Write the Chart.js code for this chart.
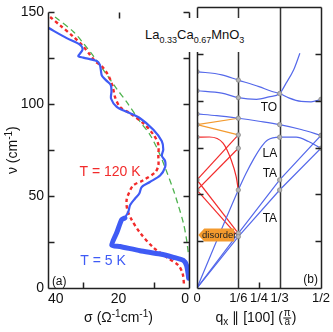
<!DOCTYPE html>
<html>
<head>
<meta charset="utf-8">
<script src="https://cdn.jsdelivr.net/npm/chart.js@4.4.0/dist/chart.umd.min.js"></script>
<style>
  html, body { margin: 0; padding: 0; background: #fff; overflow: hidden; }
  #wrap { position: relative; width: 333px; height: 332px; }
  canvas { position: absolute; top: 0; }
  #sigmaChart { left: 0; }
  #qChart { left: 190px; }
  #formula {
    position: absolute; left: 140px; top: 18px; width: 108px; height: 34px;
    background: #fff; padding-left: 5px; box-sizing: border-box;
    font: 13px 'Liberation Sans', Arial, sans-serif; line-height: 34px; color: #111;
    white-space: nowrap;
  }
  #formula span { font-size: 9px; line-height: 1; position: relative; top: 4px; }
</style>
</head>
<body>
<div id="wrap">
  <canvas id="sigmaChart" width="195" height="332"></canvas>
  <canvas id="qChart" width="143" height="332"></canvas>
  <div id="formula">La<span>0.33</span>Ca<span>0.67</span>MnO<span>3</span></div>
</div>
<script>
// (a) optical conductivity: sigma (1/Ohm cm) against nu (1/cm)
const nu5K = [141.6, 136, 132.4, 129.7, 126.2, 125.4, 123.5, 121.5, 118.5, 115.5, 113, 110.5, 107, 103, 98.6, 95.9, 92.4, 86.1, 79.9, 75.4, 71.9, 69.2, 65.7, 61.2, 57.7, 55, 51.4, 48.7, 45.2, 41.6, 38.1];
const sigma5K = [39.9, 34.7, 30.9, 30.2, 31.4, 30.0, 26.2, 25.3, 25.0, 24.7, 23.5, 22.2, 22.0, 22.1, 20.5, 17.7, 13.9, 10.1, 7.7, 7.3, 7.7, 6.8, 6.8, 8.2, 11.1, 13.4, 14.1, 15.3, 16.7, 17.2, 18.2];
const nu5KLow = [38.1, 37.2, 30.1, 23.3, 22.6, 20.3, 18.5, 16.7, 15.0, 12.3, 7.8, 5.3];
const sigma5KLow = [18.2, 19.1, 20.5, 21.9, 19.6, 13.9, 8.2, 4.4, 1.6, 0.7, 0.25, 0.1];
const nu120K = [147.5, 143, 136.8, 131.5, 127, 123.5, 120.8, 117.3, 113.7, 109.3, 104, 98.6, 95, 89.7, 83.5, 78.1, 71.9, 66.6, 63, 58.6, 55.9, 52.3, 47.9, 42.6, 37.2, 30.1, 22, 16.7, 12.3, 7.8, 1.6];
const sigma120K = [39.4, 36.6, 32.8, 30, 28.1, 26.7, 24.8, 23.4, 22.4, 21.6, 21, 19.6, 16.7, 13, 10.1, 8.7, 8.7, 8.7, 9.6, 13, 15.8, 16.9, 17.7, 17.5, 16.3, 13.9, 10.1, 6.3, 3, 1.8, 1.4];
const nuFit = [147.5, 139.5, 133.3, 126.2, 117.3, 108.4, 101.3, 90.6, 83.5, 74.6, 65.7, 53.2, 46, 35.4, 26.5, 17.5];
const sigmaFit = [38.0, 32.8, 30.0, 27.1, 23.8, 20.5, 17.7, 13.9, 11.1, 8.7, 6.8, 4.4, 3.2, 1.6, 0.7, 0.1];
const sigmaTicks = [0, 20, 40];
const nuTicks = [0, 50, 100, 150];
const nuTickMarks = [0, 25, 50, 75, 100, 125, 150];

// (b) phonon dispersion along [100], q in units of pi/a
const qTicks = [0, 1/6, 1/4, 1/3, 1/2];
const qTickLabels = ['0', '1/6', '1/4', '1/3', '1/2'];
const qO1 = [0, 0.1, 1/6, 0.25, 0.3, 1/3, 0.37, 0.42, 0.46, 0.5];
const nuO1 = [115.5, 113.8, 111, 107.5, 105, 103.8, 101.5, 99.6, 99.4, 100.7];
const qO2 = [0, 0.1, 1/6, 0.24, 0.29, 1/3, 0.36, 0.39, 0.415];
const nuO2 = [105.3, 104, 101.6, 100.7, 102, 103.8, 109.5, 116.5, 125.3];
const qO3 = [0, 0.08, 1/6, 0.25, 1/3, 0.42, 0.5];
const nuO3 = [92.9, 92, 90.6, 89, 87.2, 84.6, 81.5];
const qLA = [0, 1/6, 0.197, 0.23, 0.26, 0.285, 1/3, 0.4, 0.45, 0.5];
const nuLA = [0, 52.3, 61, 69.2, 75.5, 79, 80.5, 80.5, 78.2, 74.6];
const qTA = [0, 1/6, 1/3, 0.5];
const nuTA1 = [0, 29.2, 57.7, 81.5];
const nuTA2 = [0, 27.4, 52.3, 74.6];
const qLAFold = [0, 0.05, 0.105, 0.138, 0.158, 1/6];
const nuLAFold = [80.5, 80.6, 77.3, 68.3, 59.4, 52.3];
const qFold = [0, 1/6];
const nuTA1Down = [57.7, 29.2];
const nuTA2Down = [52.3, 27.4];
const nuTA1Up = [57.7, 81.7];
const nuTA2Up = [52.3, 74.6];
const nuO3Down = [87.2, 81.7];
const nuO3Up = [87.2, 90.6];
const qDots = [0, 0, 0, 0, 0, 0, 0, 1/6, 1/6, 1/6, 1/6, 1/6, 1/6, 1/6, 1/6, 1/3, 1/3, 1/3, 1/3, 1/3, 0.5, 0.5, 0.5];
const nuDots = [115.5, 105.3, 92.9, 87.2, 80.5, 57.7, 52.3, 111, 101.6, 90.6, 81.7, 74.6, 52.3, 29.2, 27.4, 103.8, 87.2, 80.5, 57.7, 52.3, 100.7, 81.5, 74.6];

const family = "'Liberation Sans', Arial, Helvetica, sans-serif";
Chart.defaults.font.family = family;
Chart.defaults.color = '#111';

const axisColor = '#222';
const blue = '#3f5bf5';
const thinBlue = '#5468ea';
const red = '#f22b2b';
const green = '#4fb34f';
const orange = '#f39a2e';

function toPoints(xs, ys) {
  return xs.map((v, i) => ({x: v, y: ys[i]}));
}

// draws a row of text pieces (superscripts, subscripts, a small fraction)
function richText(ctx, parts, x, y, align) {
  let w = 0;
  const widths = parts.map(p => {
    ctx.font = (p.size || 14) + 'px ' + family;
    const pw = p.frac
      ? Math.max(ctx.measureText(p.frac[0]).width, ctx.measureText(p.frac[1]).width) + 2
      : ctx.measureText(p.t).width;
    w += pw;
    return pw;
  });
  let cx = align === 'center' ? x - w / 2 : x;
  ctx.textBaseline = 'alphabetic';
  parts.forEach((p, i) => {
    ctx.font = (p.size || 14) + 'px ' + family;
    if (p.frac) {
      const mid = cx + widths[i] / 2;
      ctx.textAlign = 'center';
      ctx.fillText(p.frac[0], mid, y - 6);
      ctx.fillText(p.frac[1], mid, y + 3);
      ctx.fillRect(cx + 0.5, y - 4.5, widths[i] - 1, 1);
    } else {
      ctx.textAlign = 'left';
      ctx.fillText(p.t, cx, y + (p.dy || 0));
    }
    cx += widths[i];
  });
}

// axis box, inward tick marks and guide lines
const frame = {
  id: 'frame',
  beforeDatasetsDraw(chart, args, opts) {
    const {ctx, chartArea: a, scales: {x}} = chart;
    ctx.save();
    ctx.strokeStyle = '#333';
    ctx.lineWidth = 1.5;
    (opts.guides || []).forEach(v => {
      const px = Math.round(x.getPixelForValue(v)) + 0.5;
      ctx.beginPath();
      ctx.moveTo(px, a.top);
      ctx.lineTo(px, a.bottom);
      ctx.stroke();
    });
    ctx.restore();
  },
  afterDatasetsDraw(chart, args, opts) {
    const {ctx, chartArea: a, scales: {x, y}} = chart;
    const L = Math.round(a.left) + 0.5, R = Math.round(a.right) + 0.5;
    const T = Math.round(a.top) + 0.5, B = Math.round(a.bottom) + 0.5;
    const len = 6;
    ctx.save();
    ctx.strokeStyle = axisColor;
    ctx.lineWidth = 1.5;
    ctx.beginPath();
    opts.sides.forEach(s => {
      if (s === 'left') { ctx.moveTo(L, T); ctx.lineTo(L, B); }
      if (s === 'right') { ctx.moveTo(R, T); ctx.lineTo(R, B); }
      if (s === 'top') { ctx.moveTo(L, T); ctx.lineTo(R, T); }
      if (s === 'bottom') { ctx.moveTo(L, B); ctx.lineTo(R, B); }
    });
    nuTickMarks.forEach(v => {
      const py = Math.round(y.getPixelForValue(v)) + 0.5;
      ctx.moveTo(L, py); ctx.lineTo(L + len, py);
      ctx.moveTo(R, py); ctx.lineTo(R - len, py);
    });
    (opts.bottomTicks || []).forEach(v => {
      const px = Math.round(x.getPixelForValue(v)) + 0.5;
      ctx.moveTo(px, B); ctx.lineTo(px, B - len);
    });
    (opts.topTicks || []).forEach(v => {
      const px = Math.round(x.getPixelForValue(v)) + 0.5;
      ctx.moveTo(px, T); ctx.lineTo(px, T + len);
    });
    ctx.stroke();
    ctx.restore();
  }
};

// labels inside the panels and the axis titles
const notes = {
  id: 'notes',
  afterDraw(chart, args, opts) {
    const {ctx, chartArea: a, scales: {x, y}} = chart;
    ctx.save();
    (opts.labels || []).forEach(l => {
      ctx.font = (l.size || 12) + 'px ' + family;
      ctx.fillStyle = l.color || '#111';
      ctx.textAlign = l.align || 'center';
      ctx.textBaseline = 'middle';
      ctx.fillText(l.text, x.getPixelForValue(l.at[0]), y.getPixelForValue(l.at[1]));
    });
    if (opts.arrow) {
      const ar = opts.arrow;
      const x0 = x.getPixelForValue(ar.from), x1 = x.getPixelForValue(ar.to);
      const yc = y.getPixelForValue(ar.at), h = 6.5;
      ctx.fillStyle = orange;
      ctx.beginPath();
      ctx.moveTo(x0, yc);
      ctx.lineTo(x0 + 6, yc - h);
      ctx.lineTo(x1, yc - h);
      ctx.lineTo(x1, yc + h);
      ctx.lineTo(x0 + 6, yc + h);
      ctx.closePath();
      ctx.fill();
      ctx.fillStyle = '#222';
      ctx.font = '9.5px ' + family;
      ctx.textAlign = 'center';
      ctx.textBaseline = 'middle';
      ctx.fillText(ar.text, (x0 + 6 + x1) / 2, yc + 0.5);
    }
    ctx.fillStyle = '#111';
    if (opts.xTitle) {
      richText(ctx, opts.xTitle, (a.left + a.right) / 2 + (opts.xTitleShift || 0), a.bottom + 34, 'center');
    }
    if (opts.yTitle) {
      ctx.translate(a.left - 31.5, (a.top + a.bottom) / 2);
      ctx.rotate(-Math.PI / 2);
      richText(ctx, opts.yTitle, 0, 0, 'center');
    }
    ctx.restore();
  }
};

document.addEventListener('DOMContentLoaded', () => {
  // (a) sigma(nu) at 5 K and 120 K
  new Chart(document.getElementById('sigmaChart'), {
    type: 'line',
    data: {
      datasets: [{
        data: toPoints(sigma5K, nu5K),
        borderColor: blue,
        borderWidth: 2.2,
        tension: 0.3
      },
      {
        data: toPoints(sigma5KLow, nu5KLow),
        borderColor: blue,
        borderWidth: 5,
        borderCapStyle: 'round',
        borderJoinStyle: 'round',
        tension: 0.2
      },
      {
        data: toPoints(sigma120K, nu120K),
        borderColor: red,
        borderWidth: 2.4,
        borderDash: [3.5, 3],
        tension: 0.3
      },
      {
        data: toPoints(sigmaFit, nuFit),
        borderColor: green,
        borderWidth: 1.3,
        borderDash: [6, 4],
        tension: 0.3
      }]
    },
    options: {
      responsive: false,
      animation: false,
      layout: { padding: { top: 7, right: 6, left: 0, bottom: 0 } },
      elements: { point: { radius: 0 } },
      plugins: {
        legend: { display: false },
        tooltip: { enabled: false },
        frame: { sides: ['left', 'bottom', 'right'], bottomTicks: [30, 10], topTicks: [20] },
        notes: {
          labels: [
            { text: 'T = 120 K', at: [22.4, 63], color: red, size: 14 },
            { text: 'T = 5 K', at: [24.4, 14.4], color: blue, size: 14 },
            { text: '(a)', at: [38.9, 3.7], align: 'left', size: 12 }
          ],
          xTitle: [{ t: 'σ (Ω' }, { t: '-1', size: 10, dy: -5 }, { t: 'cm' }, { t: '-1', size: 10, dy: -5 }, { t: ')' }],
          yTitle: [{ t: 'ν (cm' }, { t: '-1', size: 10, dy: -5 }, { t: ')' }]
        }
      },
      scales: {
        x: {
          type: 'linear',
          reverse: true,
          min: 0,
          max: 40,
          grid: { display: false, drawTicks: false },
          border: { display: false },
          afterBuildTicks: s => { s.ticks = sigmaTicks.map(v => ({ value: v })); },
          afterFit: s => { s.height = 44; },
          ticks: { font: { size: 14 }, color: '#111', padding: 3, maxRotation: 0, autoSkip: false, align: 'inner' }
        },
        y: {
          type: 'linear',
          min: 0,
          max: 150,
          grid: { display: false, drawTicks: false },
          border: { display: false },
          afterBuildTicks: s => { s.ticks = nuTicks.map(v => ({ value: v })); },
          afterFit: s => { s.width = 48; },
          ticks: { font: { size: 14 }, color: '#111', padding: 4 }
        }
      }
    },
    plugins: [frame, notes]
  });

  // (b) dispersion with branches folded back at q = 1/6
  const branch = (qs, ns, color, curved) => ({
    data: toPoints(qs, ns),
    borderColor: color,
    borderWidth: 1.2,
    cubicInterpolationMode: curved ? 'monotone' : 'default',
    tension: 0
  });
  new Chart(document.getElementById('qChart'), {
    type: 'line',
    data: {
      datasets: [{
        type: 'scatter',
        data: toPoints(qDots, nuDots),
        pointRadius: 2.2,
        pointBackgroundColor: '#b4b4b4',
        pointBorderColor: '#8a8a8a',
        pointBorderWidth: 0.8,
        order: -1
      },
        branch(qO1, nuO1, thinBlue, true),
        branch(qO2, nuO2, thinBlue, true),
        branch(qO3, nuO3, thinBlue, true),
        branch(qLA, nuLA, thinBlue, true),
        branch(qTA, nuTA1, thinBlue, false),
        branch(qTA, nuTA2, thinBlue, false),
        branch(qLAFold, nuLAFold, red, true),
        branch(qFold, nuTA1Down, red, false),
        branch(qFold, nuTA2Down, red, false),
        branch(qFold, nuTA1Up, red, false),
        branch(qFold, nuTA2Up, red, false),
        branch(qFold, nuO3Down, orange, false),
        branch(qFold, nuO3Up, orange, false)
      ]
    },
    options: {
      responsive: false,
      animation: false,
      layout: { padding: { top: 7, right: 10, left: 7, bottom: 0 } },
      elements: { point: { radius: 0 } },
      plugins: {
        legend: { display: false },
        tooltip: { enabled: false },
        frame: { sides: ['left', 'bottom', 'right', 'top'], bottomTicks: [1/4], guides: [1/6, 1/3] },
        notes: {
          labels: [
            { text: 'TO', at: [0.29, 96.1] },
            { text: 'LA', at: [0.294, 71.8] },
            { text: 'TA', at: [0.294, 60.9] },
            { text: 'TA', at: [0.294, 36.8] },
            { text: '(b)', at: [0.458, 4.3] }
          ],
          arrow: { text: 'disorder', from: 0.005, to: 0.15, at: 28.3 },
          xTitle: [{ t: 'q' }, { t: 'x', size: 10, dy: 3 }, { t: ' ∥ [100] (' }, { frac: ['π', 'a'], size: 10 }, { t: ')' }],
          xTitleShift: -3
        }
      },
      scales: {
        x: {
          type: 'linear',
          min: 0,
          max: 0.5,
          grid: { display: false, drawTicks: false },
          border: { display: false },
          afterBuildTicks: s => { s.ticks = qTicks.map(v => ({ value: v })); },
          afterFit: s => { s.height = 44; },
          ticks: {
            font: { size: 13 }, color: '#111', padding: 3, maxRotation: 0, autoSkip: false,
            callback: (v, i) => qTickLabels[i]
          }
        },
        y: {
          type: 'linear',
          min: 0,
          max: 150,
          display: false
        }
      }
    },
    plugins: [frame, notes]
  });
});
</script>
</body>
</html>
